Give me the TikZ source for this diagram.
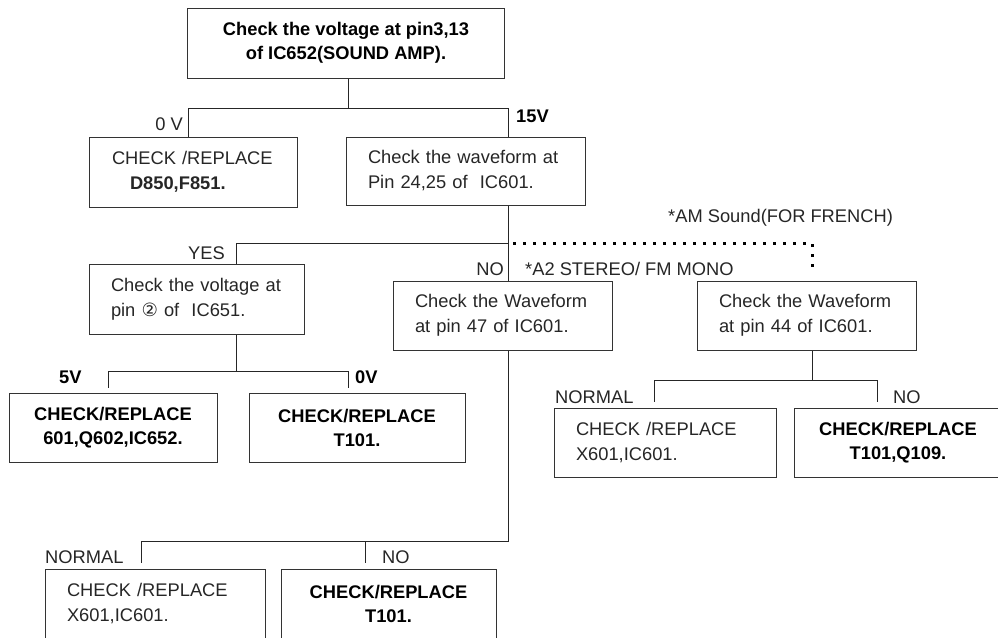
\documentclass[tikz,border=0pt]{standalone}
\usepackage{fontspec}
\setmainfont{Liberation Sans}
\newfontfamily\circfont{DejaVu Sans}
\tikzstyle{chk} = [draw=black!80, line width=1pt, rectangle, align=left, inner xsep=22pt, text=black!85, font={\fontsize{18.3}{25}\selectfont}]
\tikzstyle{fix} = [draw=black!80, line width=1pt, rectangle, align=center, font={\fontsize{18.3}{24}\selectfont\bfseries}]
\tikzstyle{lbl} = [inner sep=0pt, text=black!85, font={\fontsize{18.3}{22}\selectfont}]
\tikzstyle{lblb} = [lbl, text=black, font={\fontsize{18.3}{22}\selectfont\bfseries}]
\tikzstyle{bus} = [draw=black!85, line width=1pt]
\tikzstyle{alt} = [draw=black, line width=3pt, dash pattern=on 3pt off 7pt]

\begin{document}
\begin{tikzpicture}[x=1pt, y=-1pt]
    \fill[white] (0,0) rectangle (998,637);
    \useasboundingbox (0,0) rectangle (998,637);
    % boxes
    \node[fix, minimum width=317pt, minimum height=70pt](amp) at (346,43){Check the voltage at pin3,13\\of IC652(SOUND AMP).};
    \node[chk, inner xsep=23pt, text width=162pt, minimum height=70pt](d850) at (193,172){CHECK /REPLACE\\\hspace*{18pt}\textbf{D850,F851.}};
    \node[chk, text width=195pt, minimum height=68pt](wave) at (465.5,171){Check the waveform at\\Pin 24,25 of \ IC601.};
    \node[chk, text width=171pt, minimum height=70pt](ic651) at (196.5,299){Check the voltage at\\pin {\circfont ②} of \ IC651.};
    \node[chk, text width=175pt, minimum height=69pt](pin47) at (502.5,315.5){Check the Waveform\\at pin 47 of IC601.};
    \node[chk, text width=175pt, minimum height=69pt](pin44) at (806.5,315.5){Check the Waveform\\at pin 44 of IC601.};
    \node[fix, minimum width=208pt, minimum height=69pt](q602) at (113,427.5){CHECK/REPLACE\\601,Q602,IC652.};
    \node[fix, minimum width=216pt, minimum height=69pt](t101a) at (357,427.5){CHECK/REPLACE\\T101.};
    \node[chk, text width=178pt, minimum height=69pt](x601a) at (665,442.5){CHECK /REPLACE\\X601,IC601.};
    \node[fix, minimum width=208pt, minimum height=69pt](q109) at (898,442.5){CHECK/REPLACE\\T101,Q109.};
    \node[chk, text width=176pt, minimum height=70pt](x601b) at (155,604){CHECK /REPLACE\\X601,IC601.};
    \node[fix, minimum width=215pt, minimum height=70pt](t101b) at (388.5,604){CHECK/REPLACE\\T101.};
    % labels
    \node[lbl, anchor=base east](l0v) at (183,130){0 V};
    \node[lblb, anchor=base west](l15v) at (516,122){15V};
    \node[lbl, anchor=base east](lyes) at (225,259){YES};
    \node[lbl, anchor=base east](lno1) at (504,275){NO};
    \node[lbl, anchor=base west](la2) at (525,275){*A2 STEREO/ FM MONO};
    \node[lbl, anchor=base west](lam) at (668,222){*AM Sound(FOR FRENCH)};
    \node[lblb, anchor=base west](l5v) at (59,383){5V};
    \node[lblb, anchor=base west](l0vb) at (355,383){0V};
    \node[lbl, anchor=base west](lnorm1) at (555,403){NORMAL};
    \node[lbl, anchor=base west](lno2) at (893,403){NO};
    \node[lbl, anchor=base west](lnorm2) at (45,563){NORMAL};
    \node[lbl, anchor=base west](lno3) at (382,563){NO};
    % bus corners
    \coordinate (s1) at (348,108);
    \coordinate (b1l) at (188,108);
    \coordinate (b1r) at (508,108);
    \coordinate (b2l) at (236,243);
    \coordinate (b2r) at (508,243);
    \coordinate (d1) at (812,243);
    \coordinate (b3l) at (108,371);
    \coordinate (b3r) at (348,371);
    \coordinate (b4l) at (141,541);
    \coordinate (b4m) at (365,541);
    \coordinate (b4r) at (508,541);
    \coordinate (b5l) at (654,380);
    \coordinate (b5m) at (812,380);
    \coordinate (b5r) at (877,380);
    \draw[bus](s1 |- amp.south)--(s1);
    \draw[bus](b1l |- d850.north)--(b1l)--(b1r)--(b1r |- wave.north);
    \draw[bus](b2r |- wave.south)--(b2r |- pin47.north);
    \draw[bus](b2r)--(b2l)--(b2l |- ic651.north);
    \draw[alt, shorten >=7pt](b2r)++(5,0)--(d1)--(d1 |- pin44.north);
    \draw[bus](b2l |- ic651.south)--(b2l |- b3l);
    \draw[bus, shorten <=5pt, shorten >=5pt](b3l |- q602.north)--(b3l)--(b3r)--(b3r |- t101a.north);
    \draw[bus, shorten >=6pt](b4r |- pin47.south)--(b4r)--(b4l)--(b4l |- x601b.north);
    \draw[bus, shorten >=6pt](b4m)--(b4m |- t101b.north);
    \draw[bus](b5m |- pin44.south)--(b5m);
    \draw[bus, shorten <=6pt, shorten >=6pt](b5l |- x601a.north)--(b5l)--(b5r)--(b5r |- q109.north);
  \end{tikzpicture}
\end{document}
